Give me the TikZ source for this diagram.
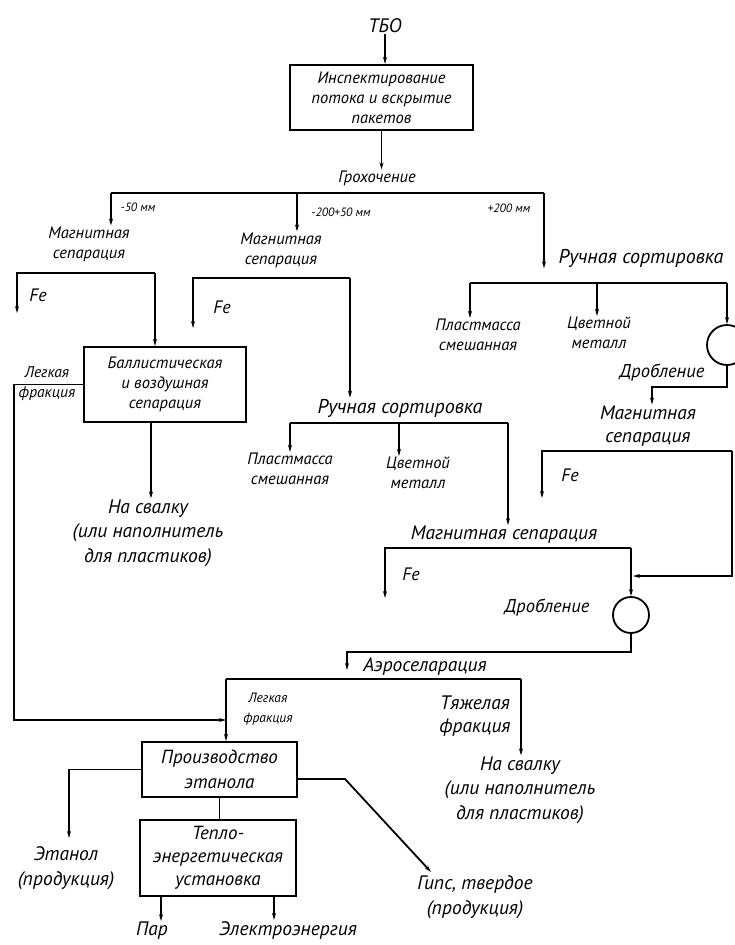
\documentclass[tikz,border=0pt]{standalone}
\usepackage{fontspec}
\setmainfont{PT Sans}
\usetikzlibrary{arrows.meta}

\begin{document}
\begin{tikzpicture}[x=1pt,y=-1pt,
  blk/.style={draw,line width=2.2pt,inner sep=2pt,align=center,font=\fontsize{16.5}{20}\selectfont\itshape},
  blkb/.style={blk,font=\fontsize{19}{24.5}\selectfont\itshape},
  tsm/.style={inner sep=1pt,font=\fontsize{12}{14}\selectfont\itshape},
  tmd/.style={inner sep=1pt,align=center,font=\fontsize{16.5}{20}\selectfont\itshape},
  tlg/.style={inner sep=1pt,align=center,font=\fontsize{19.5}{24.5}\selectfont\itshape},
  tfe/.style={inner sep=0pt,font=\fontsize{18}{20}\selectfont\itshape},
  crush/.style={draw,circle,line width=1.8pt,inner sep=0pt},
  ln/.style={line width=1.8pt},
  flow/.style={ln,-{Stealth[length=7pt,width=4pt]}}]
  \useasboundingbox (0,0) rectangle (734,945);
  \node[tlg] (tbo) at (385,26) {ТБО};
  \node[blk,minimum width=183,minimum height=65] (insp) at (381.5,97.5) {Инспектирование\\потока и вскрытие\\пакетов};
  \node[tmd] (grox) at (377,178) {Грохочение};
  \node[tsm] (mm1) at (138,207) {-50 мм};
  \node[tsm] (mm2) at (341,212) {-200+50 мм};
  \node[tsm] (mm3) at (509,208) {+200 мм};
  \node[tmd] (mag1) at (89,244) {Магнитная\\сепарация};
  \node[tmd] (mag2) at (281,250) {Магнитная\\сепарация};
  \node[tlg,font=\fontsize{20}{24}\selectfont\itshape] (rs1) at (641,258) {Ручная сортировка};
  \node[tfe] (fe1) at (38,295) {Fe};
  \node[tfe] (fe2) at (222,307) {Fe};
  \node[tmd] (pl1) at (478,335) {Пластмасса\\смешанная};
  \node[tmd] (cv1) at (599,333) {Цветной\\металл};
  \node[crush,minimum size=40] (cr1) at (727,345) {};
  \node[tlg,font=\fontsize{18.5}{22}\selectfont\itshape] (dr1) at (662,373) {Дробление};
  \node[tlg,font=\fontsize{19.5}{23}\selectfont\itshape] (mag4) at (648,426) {Магнитная\\сепарация};
  \node[blk,minimum width=162,minimum height=75] (bal) at (165,384.5) {Баллистическая\\и воздушная\\сепарация};
  \node[tmd,font=\fontsize{15.5}{20}\selectfont\itshape] (lf1) at (47,384) {Легкая\\фракция};
  \node[tlg,font=\fontsize{20}{24}\selectfont\itshape] (rs2) at (400,408) {Ручная сортировка};
  \node[tmd] (pl2) at (290,469) {Пластмасса\\смешанная};
  \node[tmd] (cv2) at (418,473) {Цветной\\металл};
  \node[tfe] (fe3) at (570,475) {Fe};
  \node[tlg] (sv1) at (148,533) {На свалку\\(или наполнитель\\для пластиков)};
  \node[tlg] (mag3) at (504,535) {Магнитная сепарация};
  \node[tfe] (fe4) at (411,574) {Fe};
  \node[crush,minimum size=36] (cr2) at (631,615) {};
  \node[tlg,font=\fontsize{18.5}{22}\selectfont\itshape] (dr2) at (547,608) {Дробление};
  \node[tlg] (aero) at (425,667) {Аэроселарация};
  \node[tmd,font=\fontsize{13.5}{20}\selectfont\itshape] (lf2) at (268,709) {Легкая\\фракция};
  \node[tlg,font=\fontsize{19.5}{23}\selectfont\itshape] (tf) at (475,716) {Тяжелая\\фракция};
  \node[tlg] (sv2) at (520,790) {На свалку\\(или наполнитель\\для пластиков)};
  \node[blkb,minimum width=155,minimum height=55] (prod) at (219.5,769.5) {Производство\\этанола};
  \node[blkb,font=\fontsize{19}{23}\selectfont\itshape,minimum width=156,minimum height=76] (teplo) at (218,858) {Тепло-\\энергетическая\\установка};
  \node[tlg] (eth) at (66,868) {Этанол\\(продукция)};
  \node[tlg] (gips) at (475,897) {Гипс, твердое\\(продукция)};
  \node[tlg] (par) at (152,931) {Пар};
  \node[tlg] (elec) at (288,930) {Электроэнергия};
  \coordinate (g1) at (111,193);
  \coordinate (g2) at (297,193);
  \coordinate (g3) at (544,193);
  \coordinate (m1a) at (17,273);
  \coordinate (m1b) at (155,273);
  \coordinate (m1c) at (17,313);
  \coordinate (m2a) at (193,278);
  \coordinate (m2b) at (350,278);
  \coordinate (m2c) at (193,328);
  \coordinate (r1a) at (470,283);
  \coordinate (r1b) at (597,283);
  \coordinate (r1c) at (727,283);
  \coordinate (k1) at (652,387);
  \coordinate (m4a) at (542,451);
  \coordinate (m4b) at (732,451);
  \coordinate (m4c) at (542,498);
  \coordinate (k2) at (633,576);
  \coordinate (r2a) at (290,423);
  \coordinate (r2b) at (399,423);
  \coordinate (r2c) at (508,423);
  \coordinate (m3a) at (385,548);
  \coordinate (m3b) at (631,548);
  \coordinate (m3c) at (385,598);
  \coordinate (k3) at (347,652);
  \coordinate (k4) at (347,670);
  \coordinate (a1) at (226,679);
  \coordinate (a2) at (521,679);
  \coordinate (lfk) at (14,720);
  \coordinate (lfj) at (226,720);
  \coordinate (pe) at (69,838);
  \coordinate (pg1) at (345,779);
  \coordinate (pg2) at (431,872);
  \draw[flow] (tbo.south) -- (tbo.south |- insp.north);
  \draw[flow] (insp.south) -- (insp.south |- grox.north);
  \draw[ln] (g1) -- (g3);
  \draw[flow] (g1) -- (g1 |- mag1.north);
  \draw[flow] (g2) -- (g2 |- mag2.north);
  \draw[flow] (g3) -- (g3 |- rs1.south);
  \draw[flow] (m1b) -- (m1a) -- (m1c);
  \draw[flow] (m1b) -- (m1b |- bal.north);
  \draw[flow] (m2b) -- (m2a) -- (m2c);
  \draw[flow] (m2b) -- (m2b |- rs2.north);
  \draw[ln] (r1a) -- (r1c);
  \draw[flow] (r1a) -- (r1a |- pl1.north);
  \draw[flow] (r1b) -- (r1b |- cv1.north);
  \draw[flow] (r1c) -- (cr1);
  \draw[flow] (cr1) |- (k1) -- (k1 |- mag4.north);
  \draw[flow] (m4b) -- (m4a) -- (m4c);
  \draw[flow] (m4b) |- (k2);
  \draw[ln] (r2a) -- (r2c);
  \draw[flow] (r2a) -- (r2a |- pl2.north);
  \draw[flow] (r2b) -- (r2b |- cv2.north);
  \draw[flow] (r2c) -- (r2c |- mag3.north);
  \draw[flow] (m3b) -- (m3a) -- (m3c);
  \draw[flow] (m3b) -- (cr2);
  \draw[flow] (cr2) |- (k3) -- (k4);
  \draw[ln] (a1) -- (a2);
  \draw[flow] (a1) -- (a1 |- prod.north);
  \draw[flow] (a2) -- (a2 |- sv2.north);
  \draw[flow] ([xshift=-14pt]bal.south) -- ([xshift=-14pt]bal.south |- sv1.north);
  \draw[flow] (bal.west) -| (lfk) -- (lfj);
  \draw[flow] (prod.west) -| (pe);
  \draw[flow] (prod.east |- pg1) -- (pg1) -- (pg2);
  \draw[ln] (prod.south) -- (prod.south |- teplo.north);
  \draw[flow] ([xshift=-57pt]teplo.south) -- ([xshift=-57pt]teplo.south |- par.north);
  \draw[flow] ([xshift=56pt]teplo.south) -- ([xshift=56pt]teplo.south |- elec.north);
\end{tikzpicture}
\end{document}
